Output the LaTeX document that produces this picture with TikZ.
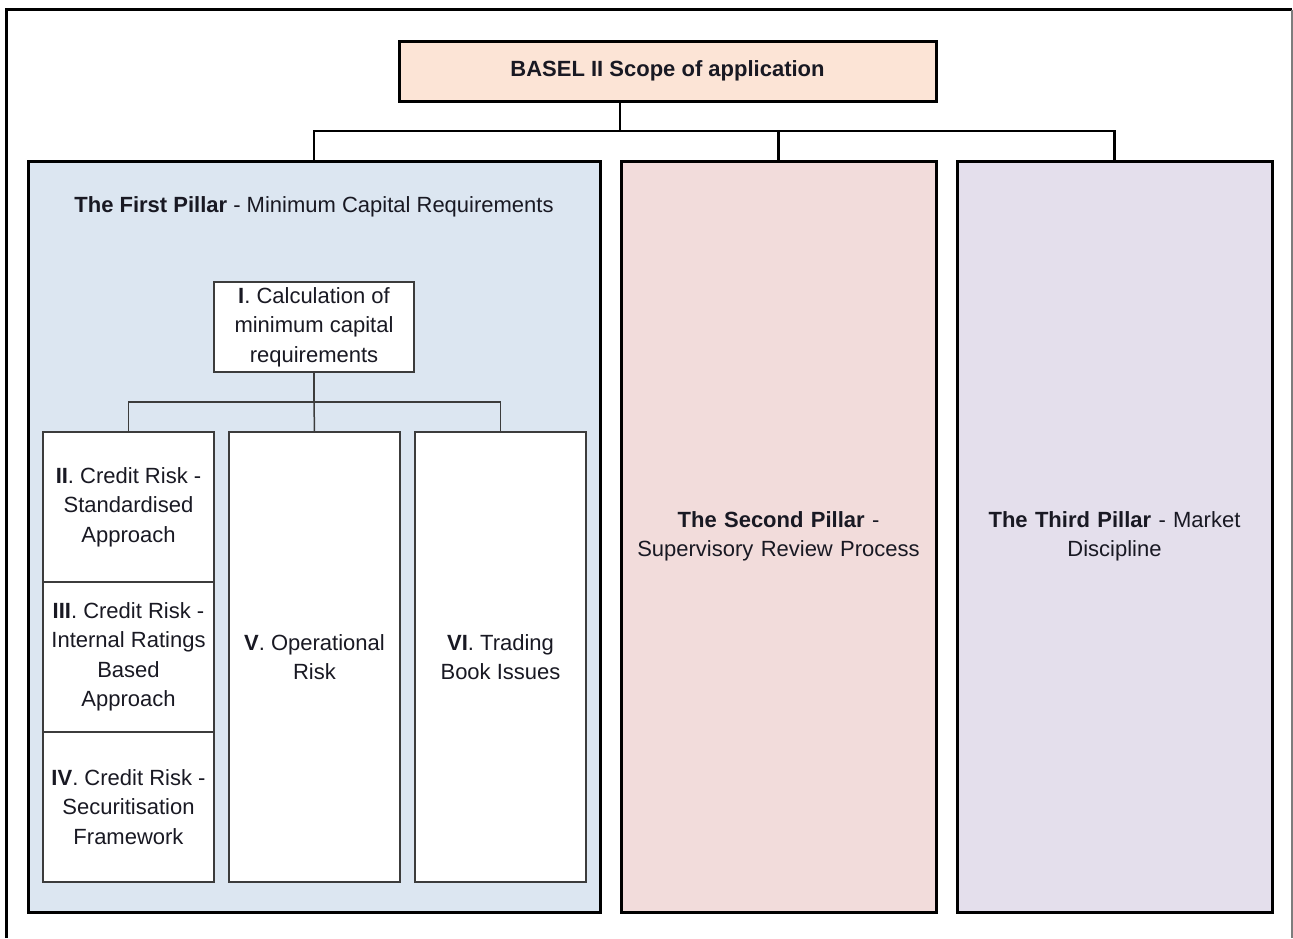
\documentclass[tikz,border=0pt]{standalone}
\usepackage{fontspec}
\setmainfont{Liberation Sans}
\definecolor{ScopePeach}{RGB}{252,228,214}
\definecolor{PillarBlue}{RGB}{220,230,241}
\definecolor{PillarRose}{RGB}{242,220,219}
\definecolor{PillarLilac}{RGB}{228,223,236}
\definecolor{FrameGrey}{RGB}{125,125,125}
\definecolor{BoxLine}{RGB}{60,60,60}
\definecolor{TextDark}{RGB}{25,25,35}
\usetikzlibrary{positioning}

\tikzset{
  pillar/.style={rectangle, draw=black, line width=3pt, outer sep=0pt,
    minimum width=315pt, minimum height=751pt, align=center, text width=300pt},
  leafbox/.style={rectangle, draw=BoxLine, fill=white, line width=1.5pt, outer sep=0pt,
    minimum width=171pt, minimum height=150pt, align=center, inner sep=0pt},
  trunk/.style={draw=black, line width=2.5pt},
  twig/.style={draw=BoxLine, line width=1.5pt},
}

\begin{document}
\begin{tikzpicture}[x=1pt, y=-1pt, font=\fontsize{22}{29.5}\selectfont, text=TextDark]
  \useasboundingbox (0,0) rectangle (1293,938);
  % sheet border
  \draw[line width=3pt] (6.5,938) -- (6.5,9.5) -- (1292,9.5);
  \draw[FrameGrey, line width=1.2pt] (1292,9.5) -- (1292,938);

  % top of the tree
  \node[rectangle, draw=black, fill=ScopePeach, line width=3pt, outer sep=0pt,
        minimum width=537pt, minimum height=60pt] (scope) at (667.5,71)
        {\textbf{BASEL II Scope of application}};

  % the three pillars
  \node[pillar, fill=PillarBlue, minimum width=572pt] (first) at (314,536.5) {};
  \node[pillar, fill=PillarRose] (second) at (778.5,536.5)
        {\textbf{The Second Pillar} -\\Supervisory Review Process};
  \node[pillar, fill=PillarLilac] (third) at (1114.5,536.5)
        {\textbf{The Third Pillar} - Market\\Discipline};
  \node (firsttitle) at (314,207)
        {\textbf{The First Pillar} - Minimum Capital Requirements};

  \coordinate (bus) at (620,131);
  \draw[trunk] (scope.south -| bus) -- (bus);
  \draw[trunk] (first.north) |- (bus) -| (third.north);
  \draw[trunk] (second.north) -- (second.north |- bus);

  % first pillar breakdown
  \node[leafbox, minimum width=200pt, minimum height=90pt] (calc) at (314,327)
        {\textbf{I}. Calculation of\\minimum capital\\requirements};
  \node[leafbox] (credit2) at (128.5,507)
        {\textbf{II}. Credit Risk -\\Standardised\\Approach};
  \node[leafbox, below=0pt of credit2] (credit3)
        {\textbf{III}. Credit Risk -\\Internal Ratings\\Based\\Approach};
  \node[leafbox, below=0pt of credit3] (credit4)
        {\textbf{IV}. Credit Risk -\\Securitisation\\Framework};
  \node[leafbox, minimum height=450pt, right=15pt of credit3] (oprisk)
        {\textbf{V}. Operational\\Risk};
  \node[leafbox, minimum height=450pt, right=15pt of oprisk] (trading)
        {\textbf{VI}. Trading\\Book Issues};

  \coordinate (split) at (314,402);
  \draw[twig] (calc.south) -- (split);
  \draw[twig] (credit2.north) |- (split) -| (trading.north);
  \draw[twig] (split) -- (oprisk.north);
\end{tikzpicture}
\end{document}
